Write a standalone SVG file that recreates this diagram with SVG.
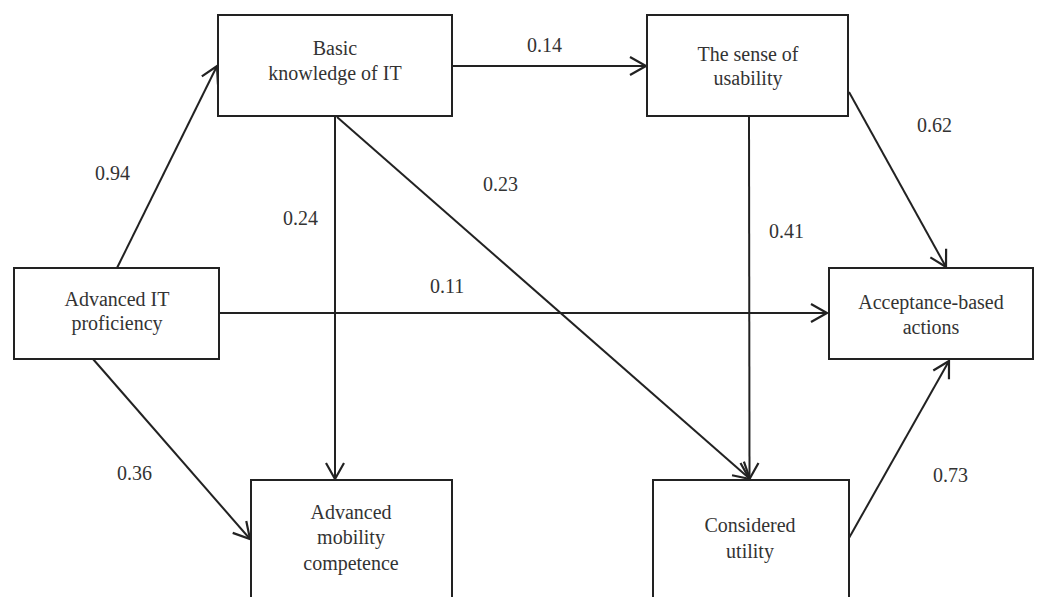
<svg xmlns="http://www.w3.org/2000/svg" width="1040" height="597" viewBox="0 0 1040 597">
<style>
.box{fill:#fff;stroke:#222;stroke-width:2}
.lbl{font-family:"Liberation Serif","Times New Roman",serif;font-size:20px;fill:#333;text-anchor:middle}
.num{font-family:"Liberation Serif","Times New Roman",serif;font-size:20px;fill:#333}
.edge{stroke:#222;stroke-width:2;fill:none;marker-end:url(#arr)}
</style>
<defs>
<marker id="arr" markerUnits="userSpaceOnUse" markerWidth="40" markerHeight="40" refX="0" refY="0" viewBox="-20 -20 40 40" orient="auto" overflow="visible">
<path d="M-16,-9 L0,0 L-16,9" fill="none" stroke="#222" stroke-width="2.2"/>
</marker>
</defs>
<rect width="1040" height="597" fill="#fff"/>
<g id="connectors">
<line class="edge" x1="117" y1="268" x2="217" y2="66"/>
<line class="edge" x1="452" y1="66" x2="646" y2="66"/>
<line class="edge" x1="335" y1="116" x2="335" y2="479"/>
<line class="edge" x1="337" y1="117" x2="750" y2="479"/>
<line class="edge" x1="749" y1="116" x2="749.5" y2="479"/>
<line class="edge" x1="849" y1="92" x2="946" y2="267"/>
<line class="edge" x1="219" y1="313" x2="827" y2="313"/>
<line class="edge" x1="93" y1="359" x2="250" y2="539"/>
<line class="edge" x1="849" y1="538" x2="949" y2="361"/>
</g>
<g id="basic">
<rect class="box" x="218" y="15" width="234" height="101"/>
<text class="lbl" x="335" y="55">Basic</text>
<text class="lbl" x="335" y="80">knowledge of IT</text>
</g>
<g id="usability">
<rect class="box" x="647" y="15" width="201" height="101"/>
<text class="lbl" x="748" y="61">The sense of</text>
<text class="lbl" x="748" y="85">usability</text>
</g>
<g id="proficiency">
<rect class="box" x="14" y="268" width="205" height="91"/>
<text class="lbl" x="117" y="306">Advanced IT</text>
<text class="lbl" x="117" y="330">proficiency</text>
</g>
<g id="acceptance">
<rect class="box" x="829" y="268" width="204" height="91"/>
<text class="lbl" x="931" y="309">Acceptance-based</text>
<text class="lbl" x="931" y="334">actions</text>
</g>
<g id="mobility">
<rect class="box" x="251" y="480" width="201" height="130"/>
<text class="lbl" x="351" y="519">Advanced</text>
<text class="lbl" x="351" y="544">mobility</text>
<text class="lbl" x="351" y="570">competence</text>
</g>
<g id="utility">
<rect class="box" x="653" y="480" width="196" height="130"/>
<text class="lbl" x="750" y="532">Considered</text>
<text class="lbl" x="750" y="558">utility</text>
</g>
<g id="labels">
<text class="num" x="95" y="180">0.94</text>
<text class="num" x="283" y="225">0.24</text>
<text class="num" x="483" y="191">0.23</text>
<text class="num" x="430" y="293">0.11</text>
<text class="num" x="527" y="52">0.14</text>
<text class="num" x="917" y="132">0.62</text>
<text class="num" x="769" y="238">0.41</text>
<text class="num" x="117" y="480">0.36</text>
<text class="num" x="933" y="482">0.73</text>
</g>
</svg>
